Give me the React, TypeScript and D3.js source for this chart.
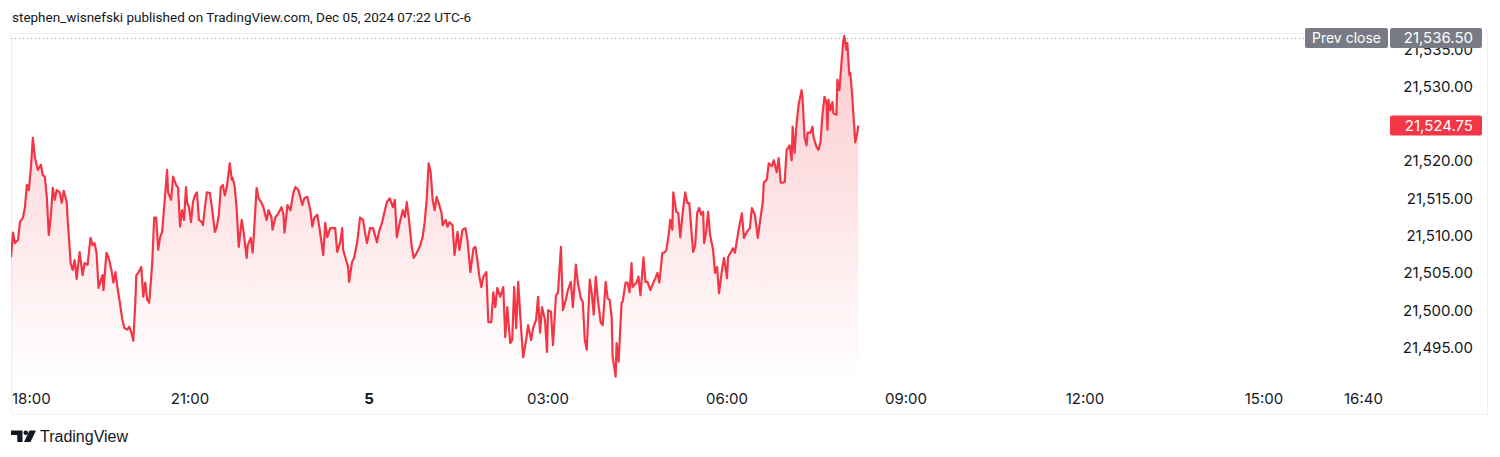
import React from "react";
import * as d3 from "d3";

// minutes since Dec 04, 18:00 (UTC-6)
const minutes: number[] = [
  0, 2, 4, 7, 9, 12, 14, 16, 18, 20, 22, 24, 27, 30, 32, 34, 36, 38, 40, 42, 44, 46, 49, 51, 53, 56, 57, 60, 62, 64,
  66, 69, 72, 74, 77, 80, 82, 84, 86, 88, 92, 93, 96, 98, 101, 103, 105, 107, 109, 112, 114, 117, 119, 121, 123, 125, 126, 128, 131, 133,
  135, 137, 139, 142, 144, 146, 148, 150, 152, 154, 157, 158, 161, 163, 166, 168, 170, 172, 174, 176, 177, 179, 181, 183, 185, 187, 189, 192, 193, 195,
  197, 200, 202, 205, 207, 209, 211, 213, 215, 217, 220, 222, 223, 225, 227, 229, 232, 234, 237, 238, 241, 243, 244, 247, 249, 252, 254, 257, 259, 262,
  263, 266, 268, 272, 274, 275, 278, 281, 284, 286, 289, 293, 295, 298, 301, 303, 305, 308, 310, 314, 316, 318, 321, 324, 326, 328, 331, 333, 334, 337,
  339, 340, 343, 345, 348, 351, 354, 356, 358, 361, 364, 368, 370, 373, 376, 378, 381, 384, 386, 388, 391, 394, 396, 398, 400, 403, 405, 408, 411, 414,
  416, 418, 420, 422, 424, 426, 428, 430, 433, 434, 437, 439, 441, 444, 446, 449, 451, 454, 457, 459, 462, 465, 467, 469, 471, 473, 475, 478, 480, 483,
  485, 487, 489, 492, 495, 497, 499, 502, 504, 506, 508, 510, 513, 515, 518, 520, 523, 525, 528, 530, 532, 534, 537, 539, 540, 543, 545, 548, 550, 553,
  555, 558, 560, 563, 565, 568, 570, 573, 575, 577, 579, 582, 584, 586, 588, 590, 593, 595, 598, 600, 602, 604, 605, 608, 609, 611, 614, 615, 618, 620,
  622, 624, 625, 629, 631, 633, 636, 638, 640, 643, 646, 648, 650, 652, 655, 657, 659, 661, 663, 665, 666, 669, 671, 673, 676, 678, 680, 682, 685, 686,
  688, 690, 692, 694, 696, 697, 699, 701, 703, 706, 708, 710, 712, 715, 717, 720, 721, 724, 726, 728, 730, 732, 735, 737, 740, 743, 745, 748, 751, 753,
  756, 757, 760, 762, 765, 767, 770, 772, 774, 776, 778, 780, 783, 785, 786, 788, 790, 792, 795, 796, 798, 800, 801, 804, 806, 807, 810, 812, 814, 816,
  818, 820, 821, 822, 824, 826, 827, 830, 831, 833, 835, 837, 838, 840, 841, 843, 844, 846, 847, 849, 851, 852,
];

// NQ price (offset from 21,500)
const offsets: number[] = [
  7.1, 10.4, 9.0, 9.4, 11.8, 12.4, 13.8, 16.8, 16.1, 19.1, 23.1, 20.5, 18.8, 19.5, 18.1, 17.9, 15.2, 10.1, 12.5, 16.4, 14.8, 16.1, 15.8, 14.4, 16.0, 14.5, 12.1, 6.3, 5.4, 6.7,
  4.2, 7.8, 4.7, 6.3, 6.1, 9.7, 8.7, 9.0, 7.7, 3.0, 4.7, 2.7, 7.7, 7.1, 5.4, 3.7, 5.1, 3.1, 1.4, -1.3, -2.4, -2.6, -2.2, -3.0, -4.1, 1.0, 4.7, 5.0, 5.8, 1.8,
  3.7, 1.4, 1.0, 6.3, 12.4, 12.4, 8.1, 9.8, 10.5, 13.8, 18.8, 15.8, 14.8, 17.9, 16.8, 16.4, 11.2, 13.4, 12.1, 16.5, 14.5, 13.8, 11.8, 14.5, 15.4, 15.8, 12.1, 11.8, 11.4, 13.8,
  15.8, 15.7, 13.8, 10.5, 11.2, 12.8, 16.5, 16.8, 15.4, 16.5, 19.7, 17.5, 17.7, 16.5, 13.4, 8.5, 12.1, 10.4, 7.0, 8.7, 9.7, 7.7, 9.7, 16.4, 15.0, 14.4, 13.7, 12.1, 13.4, 12.4,
  10.8, 12.5, 12.8, 13.8, 12.8, 10.4, 14.1, 13.4, 15.8, 16.5, 16.1, 14.1, 15.0, 15.2, 13.4, 11.2, 12.4, 12.8, 11.2, 7.4, 11.7, 9.8, 11.0, 11.0, 11.0, 7.8, 9.1, 11.0, 8.1, 6.7,
  5.8, 3.8, 6.5, 7.0, 9.0, 12.4, 12.1, 10.4, 9.0, 11.0, 11.0, 9.1, 10.5, 11.7, 13.4, 14.5, 15.0, 13.8, 14.8, 9.8, 11.8, 13.4, 12.5, 14.5, 12.4, 8.5, 7.0, 7.7, 8.5, 9.8,
  11.8, 14.8, 19.7, 18.5, 14.8, 13.4, 15.2, 14.4, 13.0, 11.4, 12.1, 11.2, 11.8, 11.4, 7.4, 10.5, 8.1, 10.8, 11.0, 9.4, 5.1, 8.3, 8.5, 6.7, 4.5, 3.1, 4.5, 5.1, -1.6, -1.6,
  2.4, 0.4, 3.0, 1.8, 3.1, -3.6, 0.4, -4.4, -4.0, 3.1, -2.4, 3.8, -2.6, -6.3, -4.0, -2.0, -4.0, -2.4, -1.3, 1.8, -3.0, 0.4, -1.3, -5.6, 0.0, -0.2, -4.7, 2.0, 2.3, 8.5,
  0.0, 1.4, 2.7, 3.8, 0.4, 6.1, 3.7, 1.6, 1.1, -4.0, -5.3, 4.1, 2.3, -0.6, 4.5, 1.6, -1.7, -2.0, 3.8, 1.6, 1.4, -0.9, -6.3, -8.9, -4.4, -6.9, 1.0, 1.1, 3.7, 3.7,
  2.4, 6.3, 3.1, 3.7, 4.5, 2.0, 7.1, 3.8, 3.8, 2.7, 3.7, 4.3, 5.0, 3.7, 7.7, 7.7, 8.1, 9.8, 12.1, 10.8, 15.8, 13.2, 13.0, 9.8, 13.7, 15.8, 14.4, 14.4, 9.4, 7.8,
  8.7, 13.0, 13.7, 12.8, 13.2, 9.0, 10.4, 13.2, 10.1, 8.1, 5.0, 5.8, 2.3, 5.4, 7.0, 4.3, 7.1, 7.8, 8.3, 7.7, 9.4, 11.0, 13.0, 9.7, 10.5, 11.0, 13.7, 12.8, 9.7, 11.7,
  14.5, 17.1, 17.5, 19.7, 19.3, 20.1, 18.5, 20.4, 17.1, 17.1, 17.2, 21.5, 22.1, 20.1, 24.6, 21.1, 25.1, 27.5, 29.5, 28.4, 23.2, 22.1, 23.8, 23.8, 24.6, 23.2, 21.9, 21.5, 22.5, 26.2,
  28.6, 27.9, 24.2, 28.2, 26.8, 27.9, 26.4, 26.2, 30.9, 29.5, 32.9, 36.2, 36.75, 34.9, 35.8, 31.5, 31.8, 28.6, 26.4, 22.5, 23.8, 24.75,
];
const prices: number[] = offsets.map((o) => 21500 + o);

const priceTicks: number[] = [21495, 21500, 21505, 21510, 21515, 21520, 21525, 21530, 21535];
const timeTicks: number[] = [180, 360, 540, 720, 900, 1080, 1260, 1360];
const timeTickLabels: string[] = ["21:00", "5", "03:00", "06:00", "09:00", "12:00", "15:00", "16:40"];
const firstTimeLabel = "18:00";
const prevClose = 21536.5;
const lastPrice = 21524.75;
const headerText = "stephen_wisnefski published on TradingView.com, Dec 05, 2024 07:22 UTC-6";

const W = 1500;
const H = 457;
const HEADER_FONT = "Roboto, 'Liberation Sans', Arial, sans-serif";
const AXIS_FONT = "Inter, 'Liberation Sans', Arial, sans-serif";
const LOGO_FONT = "'Liberation Sans', Arial, sans-serif";
const RED = "#F23645";

export default function App() {
  const paneLeft = 11;
  const paneRight = 1390;
  const paneTop = 33;
  const paneBottom = 383;
  const boxRight = 1488;
  const boxBottom = 415;

  const x = d3.scaleLinear().domain([0, 1386.7]).range([paneLeft, paneRight]);
  const y = d3.scaleLinear().domain([21495, 21530]).range([347.5, 86.4]);

  const idx = d3.range(prices.length);
  const line = d3
    .line<number>()
    .x((i) => x(minutes[i]))
    .y((i) => y(prices[i]))
    .curve(d3.curveLinear);
  const area = d3
    .area<number>()
    .x((i) => x(minutes[i]))
    .y0(paneBottom)
    .y1((i) => y(prices[i]))
    .curve(d3.curveLinear);

  const fmt = d3.format(",.2f");
  const axisLabelX = 1473;
  const axisFontSize = 15;

  return (
    <svg
      width={W}
      height={H}
      style={{ position: "absolute", left: 0, top: 0, background: "#fff" }}
    >
      <defs>
        <linearGradient id="fillGrad" gradientUnits="userSpaceOnUse" x1="0" y1={y(prevClose)} x2="0" y2={paneBottom}>
          <stop offset="0" stopColor={RED} stopOpacity={0.26} />
          <stop offset="1" stopColor={RED} stopOpacity={0.0} />
        </linearGradient>
        <clipPath id="paneClip">
          <rect x={paneLeft} y={paneTop} width={paneRight - paneLeft} height={paneBottom - paneTop} />
        </clipPath>
      </defs>

      <rect x={0} y={0} width={W} height={H} fill="#ffffff" />

      <text x={12} y={22} fontSize={13.5} fill="#131722" fontFamily={HEADER_FONT}>
        {headerText}
      </text>

      {/* chart frame */}
      <rect
        x={paneLeft + 0.5}
        y={paneTop + 0.5}
        width={boxRight - paneLeft - 1}
        height={boxBottom - paneTop - 1}
        fill="none"
        stroke="#eef0f4"
        strokeWidth={1}
      />

      {/* prev close dotted line */}
      <line
        x1={paneLeft}
        x2={1305}
        y1={Math.round(y(prevClose)) + 0.5}
        y2={Math.round(y(prevClose)) + 0.5}
        stroke="#9598a1"
        strokeWidth={1}
        strokeDasharray="1 3"
      />

      <g clipPath="url(#paneClip)">
        <path d={area(idx) || ""} fill="url(#fillGrad)" />
        <path d={line(idx) || ""} fill="none" stroke={RED} strokeWidth={2.2} strokeLinejoin="round" />
      </g>

      {/* price axis */}
      <g fontFamily={AXIS_FONT} fontSize={axisFontSize}>
        {priceTicks.map((p) => (
          <text key={p} x={axisLabelX} y={y(p)} dy="0.36em" fill="#131722" textAnchor="end">
            {fmt(p)}
          </text>
        ))}

        {/* prev close labels */}
        <rect x={1305} y={y(prevClose) - 10} width={83} height={20} rx={2} fill="#787b86" />
        <text x={1346.5} y={y(prevClose)} dy="0.36em" fill="#ffffff" textAnchor="middle" fontSize={14}>
          Prev close
        </text>
        <rect x={1390} y={y(prevClose) - 10} width={92} height={20} rx={2} fill="#787b86" />
        <text x={axisLabelX} y={y(prevClose)} dy="0.36em" fill="#ffffff" textAnchor="end">
          {fmt(prevClose)}
        </text>

        {/* last price label */}
        <rect x={1390} y={y(lastPrice) - 10} width={92} height={20} rx={2} fill={RED} />
        <text x={axisLabelX} y={y(lastPrice)} dy="0.36em" fill="#ffffff" textAnchor="end">
          {fmt(lastPrice)}
        </text>

        {/* time axis */}
        <text x={12} y={399} dy="0.36em" fill="#131722">
          {firstTimeLabel}
        </text>
        {timeTicks.map((t, i) => (
          <text
            key={t}
            x={x(t)}
            y={399}
            dy="0.36em"
            fill="#131722"
            textAnchor="middle"
            fontWeight={timeTickLabels[i] === "5" ? 700 : 400}
          >
            {timeTickLabels[i]}
          </text>
        ))}
      </g>

      {/* TradingView logo */}
      <g fill="#131722">
        <path d="M11,430.5 H22.5 V442 H17.3 V435 H11 Z" />
        <circle cx={25.8} cy={432.8} r={2.3} />
        <path d="M29.5,430.5 H36 L30.5,442 H24 Z" />
      </g>
      <text x={40} y={442} fontSize={16} fill="#131722" fontFamily={LOGO_FONT}>
        TradingView
      </text>
    </svg>
  );
}
